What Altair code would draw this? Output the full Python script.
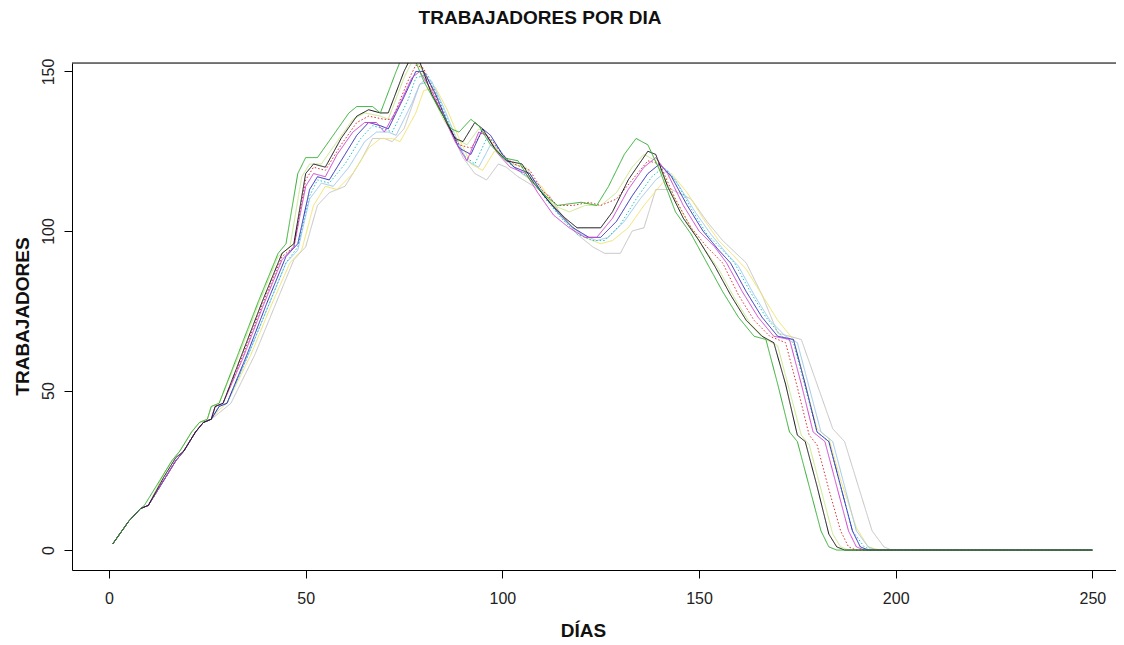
import altair as alt
import pandas as pd

# ---- data: (day, workers) vertices ----
verde = [(1,2),(5,9),(8,13),(9,14),(14,24),(16,28),(18,31),(21,37),(23,40),(25,41),(26,45),(28,46),(33,62),(38,78),(43,93),(45,96),(48,118),(50,123),(53,123),(57,130),(61,137),(63,139),(67,139),(69,137),(73,150),(75,156),(77,156),(80,147),(84,138),(87,132),(89,131),(92,135),(94,133),(97,127),(100,123),(104,122),(107,116),(111,111),(114,108),(120,109),(124,108),(127,114),(131,124),(134,129),(137,127),(140,119),(144,106),(148,99),(152,90),(156,81),(160,73),(164,67),(167,66),(170,52),(173,37),(175,34),(178,20),(181,6),(183,1),(185,0),(250,0)]
negro = [(1,2),(5,9),(8,13),(10,14),(14,23),(17,29),(19,31),(22,37),(24,40),(26,41),(27,45),(29,46),(34,62),(39,78),(44,93),(47,96),(50,118),(52,121),(55,120),(59,129),(63,136),(66,138),(69,137),(71,137),(75,150),(77,155),(79,153),(82,143),(85,136),(88,129),(90,128),(93,134),(95,132),(98,126),(101,122),(105,121),(108,115),(112,109),(116,104),(119,101),(125,101),(128,106),(132,116),(137,125),(139,124),(142,114),(146,104),(150,97),(154,89),(158,80),(162,72),(166,67),(169,65),(172,52),(175,36),(177,34),(180,20),(183,5),(185,1),(187,0),(250,0)]
lima = [(1,2),(5,9),(8,13),(10,14),(14,24),(16,28),(18,31),(21,37),(23,40),(25,41),(26,45),(28,46),(33,61),(38,77),(43,92),(46,95),(49,117),(51,121),(54,121),(58,128),(62,135),(65,137),(69,136),(71,135),(75,148),(77,153),(79,152),(82,143),(85,135),(88,129),(91,127),(94,132),(96,130),(99,125),(102,121),(106,120),(109,114),(113,108),(117,106),(121,108),(125,108),(129,112),(133,120),(136,124),(139,122),(143,112),(147,103),(151,95),(155,88),(159,79),(163,71),(167,66),(170,64),(173,50),(176,36),(178,33),(181,19),(184,5),(186,1),(188,0),(250,0)]
rojo = [(1,2),(5,9),(8,13),(10,14),(15,24),(17,28),(19,31),(22,37),(24,40),(26,41),(27,45),(29,46),(34,61),(39,77),(44,92),(47,95),(50,116),(52,120),(55,119),(59,127),(63,134),(66,136),(70,135),(72,135),(76,147),(78,152),(80,151),(83,142),(86,134),(89,127),(92,126),(95,131),(97,129),(100,124),(103,121),(107,119),(110,113),(114,108),(118,108),(122,109),(125,108),(129,110),(133,116),(137,122),(140,121),(144,110),(148,101),(152,95),(156,90),(160,80),(164,72),(168,67),(172,65),(175,51),(178,36),(180,33),(183,19),(186,6),(188,1),(190,0),(250,0)]
magenta = [(1,2),(5,9),(8,13),(10,14),(15,24),(17,28),(19,31),(22,37),(24,40),(26,41),(27,45),(29,46),(34,60),(39,76),(44,91),(47,95),(50,114),(52,118),(55,117),(58,124),(62,131),(65,134),(68,134),(70,131),(74,140),(77,148),(79,150),(82,144),(85,136),(88,128),(91,122),(94,131),(96,130),(99,124),(102,120),(106,118),(109,112),(113,105),(117,101),(121,98),(124,98),(128,104),(132,113),(136,120),(139,123),(142,118),(146,108),(150,100),(154,95),(157,90),(161,81),(165,73),(169,67),(173,66),(176,52),(179,37),(182,34),(185,20),(188,6),(190,1),(192,0),(250,0)]
azul = [(1,2),(5,9),(8,13),(10,14),(15,24),(17,28),(19,31),(22,37),(24,40),(26,41),(28,45),(30,46),(35,61),(40,77),(45,92),(48,96),(51,113),(53,117),(56,116),(59,122),(63,130),(66,134),(69,133),(71,132),(75,142),(78,150),(80,150),(83,143),(86,134),(89,126),(92,124),(95,132),(97,130),(100,124),(103,120),(107,118),(110,112),(114,106),(118,101),(122,98),(125,98),(129,103),(133,111),(137,118),(140,121),(143,117),(147,108),(151,100),(155,94),(158,90),(162,81),(166,73),(170,67),(174,66),(177,52),(180,37),(183,34),(186,20),(189,6),(191,1),(193,0),(250,0)]
cian = [(1,2),(5,9),(8,13),(10,14),(15,24),(17,28),(19,31),(22,37),(24,40),(26,41),(28,45),(30,46),(35,60),(40,75),(45,90),(48,95),(51,111),(53,116),(56,115),(60,121),(64,129),(67,133),(70,132),(72,131),(76,141),(78,148),(81,149),(84,141),(87,132),(90,124),(93,121),(96,129),(98,128),(101,122),(104,119),(108,116),(111,110),(115,104),(119,99),(123,97),(126,97),(130,102),(134,110),(138,117),(141,120),(144,116),(148,107),(152,99),(156,94),(159,90),(163,81),(167,73),(171,67),(174,65),(177,51),(180,37),(183,34),(186,20),(189,6),(192,1),(194,0),(250,0)]
celeste = [(1,2),(5,9),(8,13),(10,14),(15,24),(17,28),(19,31),(22,37),(24,40),(26,41),(28,45),(30,46),(35,60),(40,75),(45,90),(48,94),(51,110),(54,115),(57,114),(61,120),(65,128),(68,131),(71,131),(73,130),(77,140),(79,146),(82,147),(85,139),(88,130),(91,122),(94,120),(97,127),(99,126),(102,121),(105,118),(109,115),(112,109),(116,103),(120,99),(124,97),(127,98),(131,103),(135,110),(139,116),(142,119),(145,114),(149,106),(153,99),(157,93),(160,89),(164,80),(168,72),(172,67),(175,65),(178,51),(181,37),(184,34),(187,20),(190,6),(193,1),(195,0),(250,0)]
amarillo = [(1,2),(5,9),(8,13),(10,14),(15,24),(17,28),(19,31),(22,37),(24,40),(26,41),(28,44),(30,46),(36,61),(41,76),(46,90),(49,94),(52,108),(55,114),(58,113),(62,118),(66,126),(69,129),(72,129),(74,128),(78,137),(80,144),(83,145),(86,138),(89,129),(92,121),(95,119),(98,125),(100,124),(103,120),(106,117),(110,114),(113,108),(117,102),(121,98),(125,96),(128,97),(132,101),(136,108),(140,114),(143,118),(147,112),(151,104),(155,97),(159,92),(162,88),(166,80),(170,72),(174,66),(177,52),(180,38),(183,35),(186,22),(190,7),(193,1),(196,0),(250,0)]
gris = [(1,2),(5,9),(8,13),(10,14),(15,24),(17,28),(19,31),(22,37),(24,40),(26,41),(28,43),(31,46),(37,61),(42,76),(47,91),(50,95),(53,108),(56,112),(60,114),(64,122),(67,129),(70,129),(72,128),(75,132),(79,146),(81,148),(84,140),(87,131),(90,123),(93,118),(96,116),(99,121),(101,120),(104,117),(108,114),(112,111),(115,105),(119,99),(123,95),(126,93),(130,93),(133,100),(136,101),(139,113),(143,113),(148,110),(152,103),(156,97),(162,90),(166,80),(170,68),(176,66),(180,52),(184,38),(187,34),(190,22),(194,6),(197,1),(199,0),(250,0)]

series_names = ["gris", "amarillo", "celeste", "lima", "cian", "rojo", "azul", "magenta", "negro", "verde"]
series_data = [gris, amarillo, celeste, lima, cian, rojo, azul, magenta, negro, verde]
series_colors = ["#c4c4c4", "#f2e36a", "#9cc8ec", "#c9e88a", "#22c4c8", "#e03030", "#2a2ab8", "#d040d0", "#111111", "#2fae2f"]
series_dash = ["solid", "solid", "solid", "solid", "dot", "dot", "solid", "solid", "solid", "solid"]

x_ticks = [0, 50, 100, 150, 200, 250]
y_ticks = [0, 50, 100, 150]

rows = []
for order, (name, pts, dash) in enumerate(zip(series_names, series_data, series_dash)):
    for d, v in pts:
        rows.append({"serie": name, "dia": d, "trabajadores": v, "trazo": dash, "orden": order})
df = pd.DataFrame(rows)

FONT = "Liberation Sans Narrow, Liberation Sans, Arial, sans-serif"
W, H = 1044, 507

lines = alt.Chart(df).mark_line(strokeWidth=1, clip=True).encode(
    x=alt.X("dia:Q",
            scale=alt.Scale(domain=[-9.4, 256], nice=False, zero=False),
            axis=alt.Axis(values=x_ticks, title="DÍAS", grid=False, tickSize=8,
                          labelPadding=12, labelFontSize=16, labelFont=FONT,
                          labelColor="#222222", domainColor="#000000", tickColor="#000000",
                          titleFont=FONT, titleFontSize=19, titleFontWeight="bold",
                          titleColor="#111111", titleX=511, titleY=60, titleBaseline="middle",
                          labelFlush=False)),
    y=alt.Y("trabajadores:Q",
            scale=alt.Scale(domain=[-6.25, 152.65], nice=False, zero=False),
            axis=alt.Axis(values=y_ticks, title="TRABAJADORES", grid=False, tickSize=8,
                          labelAngle=270, labelAlign="center", labelBaseline="bottom",
                          labelPadding=8, labelFontSize=16, labelFont=FONT,
                          labelColor="#222222", domainColor="#000000", tickColor="#000000",
                          titleFont=FONT, titleFontSize=19, titleFontWeight="bold",
                          titleColor="#111111", titleAngle=270, titleX=-50, titleY=253,
                          titleBaseline="middle", titleAlign="center", labelFlush=False)),
    color=alt.Color("serie:N", scale=alt.Scale(domain=series_names, range=series_colors), legend=None),
    strokeDash=alt.StrokeDash("trazo:N", scale=alt.Scale(domain=["solid", "dot"], range=[[1, 0], [1.5, 2]]), legend=None),
    detail="serie:N",
    order=alt.Order("dia:Q"),
)

top_df = pd.DataFrame({"k": [0]})
top_rule = alt.Chart(top_df).mark_rule(color="#000000", strokeWidth=1).encode(
    x=alt.value(0), x2=alt.value(W), y=alt.value(0)
)

chart = alt.layer(lines, top_rule).properties(
    width=W, height=H,
    title=alt.TitleParams("TRABAJADORES POR DIA", font=FONT, fontSize=19, fontWeight="bold",
                          color="#111111", anchor="middle", dx=-54, offset=30),
    padding={"left": 64, "top": 55, "right": 0, "bottom": 74},
    autosize=alt.AutoSizeParams(type="none"),
).configure_view(stroke=None).configure(background="white")

chart.save("out.html", embed_options={"renderer": "svg", "actions": False})
